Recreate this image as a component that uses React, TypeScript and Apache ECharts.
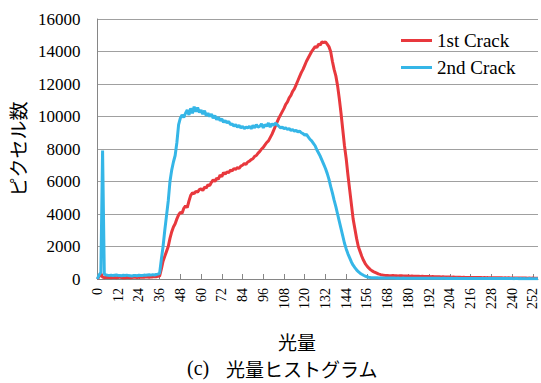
import React, { useEffect, useRef } from "react";
import * as echarts from "echarts";

const categories: string[] = Array.from({ length: 256 }, (_, i) => String(i));

const seriesNames = ["1st Crack", "2nd Crack"];

const firstCrack: number[] = [
  0, 150, 350, 120, 80, 100, 90, 110, 80, 100,
  90, 80, 100, 110, 90, 80, 70, 90, 100, 80,
  90, 100, 110, 90, 100, 120, 110, 100, 130, 120,
  110, 140, 130, 150, 140, 160, 180, 600, 1100, 1400,
  1700, 2000, 2500, 2900, 3200, 3400, 3700, 3950, 4100, 4050,
  4350, 4500, 4400, 4800, 5150, 5300, 5250, 5400, 5350, 5500,
  5550, 5450, 5650, 5600, 5800, 5750, 5950, 6100, 6000, 6200,
  6150, 6400, 6300, 6550, 6450, 6600, 6550, 6700, 6650, 6800,
  6750, 6850, 6800, 6950, 7000, 7100, 7050, 7200, 7250, 7350,
  7400, 7550, 7600, 7750, 7850, 8000, 8100, 8250, 8400, 8500,
  8700, 8900, 9150, 9400, 9650, 9900, 10100, 10300, 10500, 10750,
  10900, 11150, 11300, 11550, 11700, 11950, 12200, 12450, 12700, 12900,
  13150, 13400, 13600, 13800, 14000, 14150, 14300, 14250, 14450, 14400,
  14600, 14550, 14600, 14450, 14300, 14000, 13400, 12900, 12500, 11900,
  11100, 10200, 9200, 8200, 7400, 6400, 5500, 4600, 3700, 3100,
  2500, 2000, 1700, 1400, 1150, 950, 800, 680, 580, 500,
  440, 390, 340, 300, 270, 245, 225, 215,
  210, 205, 200, 210, 195, 200, 190, 195, 200, 185,
  190, 180, 185, 175, 180, 170, 175, 165, 170, 160,
  165, 155, 160, 150, 155, 145, 150, 140, 145, 135,
  140, 130, 135, 125, 130, 120, 125, 115, 120, 110,
  115, 105, 110, 100, 105, 95, 100, 95, 100, 90,
  95, 90, 85, 90, 85, 80, 85, 80, 85, 75,
  80, 75, 80, 70, 75, 70, 75, 65, 70, 65,
  70, 65, 60, 65, 60, 65, 55, 60, 55, 60,
  55, 50, 55, 50, 55, 50, 50, 50,
];

const secondCrack: number[] = [
  0, 250, 400, 7900, 300, 250, 230, 220, 240, 210,
  230, 250, 220, 210, 200, 230, 220, 240, 210, 200,
  190, 210, 220, 200, 230, 210, 220, 240, 230, 250,
  260, 240, 270, 250, 280, 300, 350, 1200, 2000, 3000,
  3900, 4800, 6000, 6700, 7200, 7600, 8400, 9500, 9900, 10100,
  9950, 10200, 10400, 10100, 10500, 10200, 10600, 10300, 10550, 10250,
  10400, 10150, 10350, 10050, 10200, 10000, 10150, 9900, 10050, 9800,
  9950, 9750, 9850, 9650, 9750, 9600, 9700, 9500, 9550, 9400,
  9500, 9350, 9450, 9300, 9400, 9250, 9350, 9300, 9400, 9250,
  9450, 9300, 9500, 9350, 9400, 9550, 9300, 9500, 9400, 9600,
  9350, 9550, 9450, 9600, 9500, 9400, 9300, 9350, 9250, 9300,
  9200, 9250, 9150, 9200, 9100, 9150, 9050, 9100, 9000, 8950,
  8850, 8900, 8750, 8600, 8500, 8350, 8200, 7950, 7750, 7550,
  7300, 7050, 6800, 6500, 6150, 5700, 5300, 4850, 4450, 4000,
  3550, 3100, 2650, 2200, 1850, 1550, 1300, 1050, 850, 700,
  560, 450, 360, 290, 230, 180, 140, 110, 90,
  80, 75, 70, 70, 65, 70, 60, 65, 60, 60,
  55, 60, 55, 55, 50, 55, 50, 50, 55, 50,
  45, 50, 50, 45, 50, 45, 45, 50, 45, 40,
  45, 45, 40, 45, 40, 40, 45, 40, 40, 40,
  35, 40, 40, 35, 40, 35, 40, 35, 35, 40,
  35, 35, 35, 30, 35, 35, 30, 35, 30, 35,
  30, 30, 35, 30, 30, 30, 30, 25, 30, 30,
  25, 30, 30, 25, 25, 30, 25, 25, 30, 25,
  25, 25, 20, 25, 25, 20, 25, 20, 25, 20,
  20, 25, 20, 20, 20, 20, 20,
];

const yTitle = "ピクセル数";
const xTitle = "光量";
const captionPrefix = "(c)";
const captionText = "光量ヒストグラム";

export default function App() {
  const ref = useRef<HTMLDivElement>(null);
  useEffect(() => {
    if (!ref.current) return;
    const chart = echarts.init(ref.current, undefined, { renderer: "svg" });
    const serif = "Liberation Serif";
    const cjk = "Noto Sans CJK JP";
    chart.setOption({
      animation: false,
      backgroundColor: "#ffffff",
      textStyle: { fontFamily: serif },
      grid: { left: 96, right: 3, top: 19, bottom: 104, containLabel: false },
      legend: {
        orient: "vertical",
        left: 396,
        top: 26,
        icon: "rect",
        itemWidth: 31,
        itemHeight: 3,
        itemGap: 8,
        textStyle: { fontFamily: serif, fontSize: 19, color: "#000" },
        data: seriesNames,
      },
      xAxis: {
        type: "category",
        data: categories,
        boundaryGap: false,
        axisLine: { lineStyle: { color: "#868686", width: 1 } },
        axisTick: { inside: true, interval: 11, length: 5, lineStyle: { color: "#868686" } },
        axisLabel: {
          interval: 11,
          rotate: 90,
          color: "#000",
          margin: 9,
          formatter: (v: string) => "{s|" + v + "}",
          rich: { s: { fontFamily: serif, fontSize: 14, color: "#000" } },
        },
        splitLine: { show: false },
      },
      yAxis: {
        type: "value",
        min: 0,
        max: 16000,
        interval: 2000,
        axisLine: { show: true, lineStyle: { color: "#868686" } },
        axisTick: { show: false },
        axisLabel: {
          color: "#000",
          margin: 17,
          formatter: (v: number) => "{s|" + String(v) + "}",
          rich: { s: { fontFamily: serif, fontSize: 17, color: "#000" } },
        },
        splitLine: { lineStyle: { color: "#a0a0a0" } },
        name: yTitle,
        nameLocation: "middle",
        nameGap: 66,
        nameRotate: 90,
        nameTextStyle: { fontFamily: cjk, fontSize: 19, color: "#000" },
      },
      series: [
        {
          name: seriesNames[0],
          type: "line",
          data: firstCrack,
          symbol: "none",
          lineStyle: { width: 3, color: "#e8383d" },
          itemStyle: { color: "#e8383d" },
        },
        {
          name: seriesNames[1],
          type: "line",
          data: secondCrack,
          symbol: "none",
          lineStyle: { width: 3, color: "#35b6e7" },
          itemStyle: { color: "#35b6e7" },
        },
      ],
      graphic: [
        {
          type: "text",
          x: 297,
          y: 341,
          style: { text: xTitle, fontFamily: cjk, fontSize: 19, fill: "#000", align: "center", verticalAlign: "middle" },
        },
        {
          type: "text",
          x: 187,
          y: 368,
          style: { text: captionPrefix, fontFamily: serif, fontSize: 20, fill: "#000", align: "left", verticalAlign: "middle" },
        },
        {
          type: "text",
          x: 226,
          y: 368,
          style: { text: captionText, fontFamily: cjk, fontSize: 19, fill: "#000", align: "left", verticalAlign: "middle" },
        },
      ],
    });
    return () => chart.dispose();
  }, []);
  return (
    <div
      ref={ref}
      style={{ position: "fixed", left: 0, top: 0, width: 541, height: 383, background: "#fff" }}
    />
  );
}
